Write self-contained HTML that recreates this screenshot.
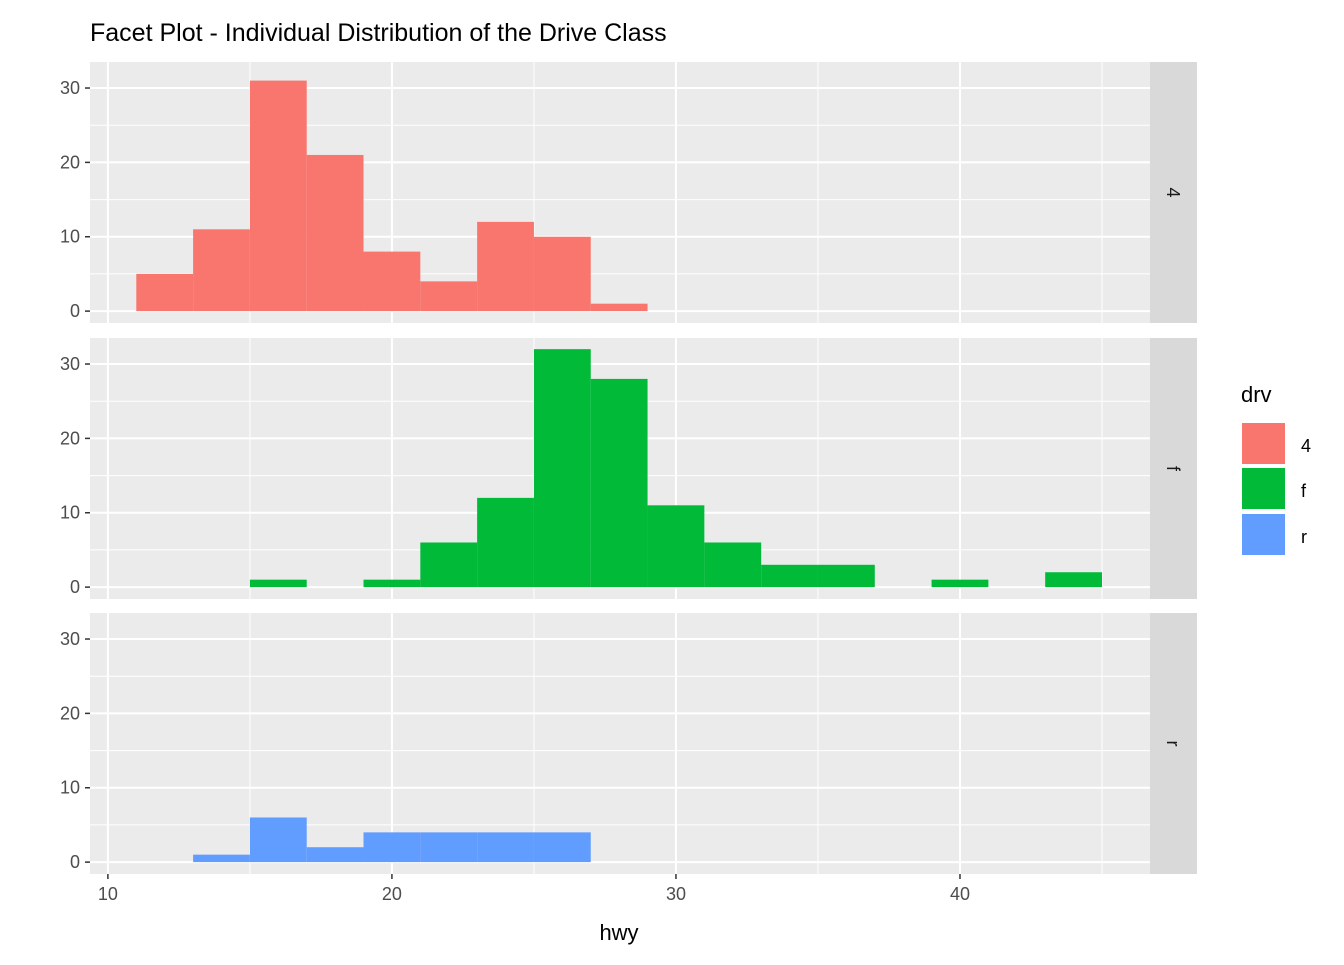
<!DOCTYPE html>
<html><head><meta charset="utf-8"><style>
body{margin:0;background:#fff;}
svg text{font-family:"Liberation Sans",Arial,sans-serif;}
</style></head><body>
<svg id="chart" width="1344" height="960" xmlns="http://www.w3.org/2000/svg">
<text x="90" y="41" font-size="25" fill="#000">Facet Plot - Individual Distribution of the Drive Class</text>
<g id="panels"></g>
<text x="619" y="940" font-size="22" text-anchor="middle" fill="#000">hwy</text>
<g>
<text x="1241" y="402" font-size="22" fill="#000">drv</text>
<rect x="1242" y="423" width="43" height="41" fill="#F8766D"/>
<text x="1301" y="452" font-size="18" fill="#000">4</text>
<rect x="1242" y="468" width="43" height="41" fill="#00BA38"/>
<text x="1301" y="497" font-size="18" fill="#000">f</text>
<rect x="1242" y="514" width="43" height="41" fill="#619CFF"/>
<text x="1301" y="543" font-size="18" fill="#000">r</text>
</g>
</svg>
<script>
const facets = ["4","f","r"];
const binStarts = [11,13,15,17,19,21,23,25,27,29,31,33,35,37,39,41,43];
const counts4 = [5,11,31,21,8,4,12,10,1,0,0,0,0,0,0,0,0];
const countsF = [0,0,1,0,1,6,12,32,28,11,6,3,3,0,1,0,2];
const countsR = [0,1,6,2,4,4,4,4,0,0,0,0,0,0,0,0,0];
const binWidth = 2;
const xTicks = [10,20,30,40];
const xMinor = [15,25,35,45];
const yTicks = [0,10,20,30];
const yMinor = [5,15,25];
const colors = ["#F8766D","#00BA38","#619CFF"];
const series = [counts4, countsF, countsR];

const NS="http://www.w3.org/2000/svg";
const px0=90, px1=1150, xmin=9.37, xmax=46.69;
const panelTops=[62,338,613], ph=261;
const ymin=-1.6, ymax=33.5;
function X(v){return px0+(v-xmin)/(xmax-xmin)*(px1-px0);}
function mk(tag,attrs,parent){const e=document.createElementNS(NS,tag);for(const k in attrs)e.setAttribute(k,attrs[k]);parent.appendChild(e);return e;}
const root=document.getElementById('panels');
facets.forEach((f,i)=>{
  const top=panelTops[i];
  const Y=v=>top+ph-(v-ymin)/(ymax-ymin)*ph;
  const g=mk('g',{},root);
  
  
  const bg=mk('rect',{x:px0,y:top,width:px1-px0,height:ph,fill:'#EBEBEB'},g);
  
  
  xMinor.forEach(v=>{mk('line',{x1:X(v),x2:X(v),y1:top,y2:top+ph,stroke:'#fff','stroke-width':1},g);});
  yMinor.forEach(v=>{mk('line',{x1:px0,x2:px1,y1:Y(v),y2:Y(v),stroke:'#fff','stroke-width':1},g);});
  xTicks.forEach(v=>{mk('line',{x1:X(v),x2:X(v),y1:top,y2:top+ph,stroke:'#fff','stroke-width':2},g);});
  yTicks.forEach(v=>{
    mk('line',{x1:px0,x2:px1,y1:Y(v),y2:Y(v),stroke:'#fff','stroke-width':2},g);
    mk('line',{x1:px0-5,x2:px0,y1:Y(v),y2:Y(v),stroke:'#333','stroke-width':1.5},g);
    const t=mk('text',{x:px0-10,y:Y(v)+6,'font-size':18,'text-anchor':'end',fill:'#4D4D4D'},g);
    t.textContent=v;
    
    
  });
  series[i].forEach((c,j)=>{
    if(c<=0)return;
    const r=mk('rect',{x:X(binStarts[j]),y:Y(c),width:X(binStarts[j]+binWidth)-X(binStarts[j]),height:Y(0)-Y(c),fill:colors[i]},g);
    
    
  });
  const s=mk('rect',{x:px1,y:top,width:47,height:ph,fill:'#D9D9D9'},g);
  
  
  const st=mk('text',{x:0,y:0,'font-size':18,'text-anchor':'middle',fill:'#1A1A1A',transform:`translate(${px1+17},${top+ph/2}) rotate(90)`},g);
  st.textContent=f;
  
  
});
const lastBottom=panelTops[2]+ph;
xTicks.forEach(v=>{
  mk('line',{x1:X(v),x2:X(v),y1:lastBottom,y2:lastBottom+5,stroke:'#333','stroke-width':1.5},root);
  const t=mk('text',{x:X(v),y:lastBottom+26,'font-size':18,'text-anchor':'middle',fill:'#4D4D4D'},root);
  t.textContent=v;
  
  
});
</script>
</body></html>
